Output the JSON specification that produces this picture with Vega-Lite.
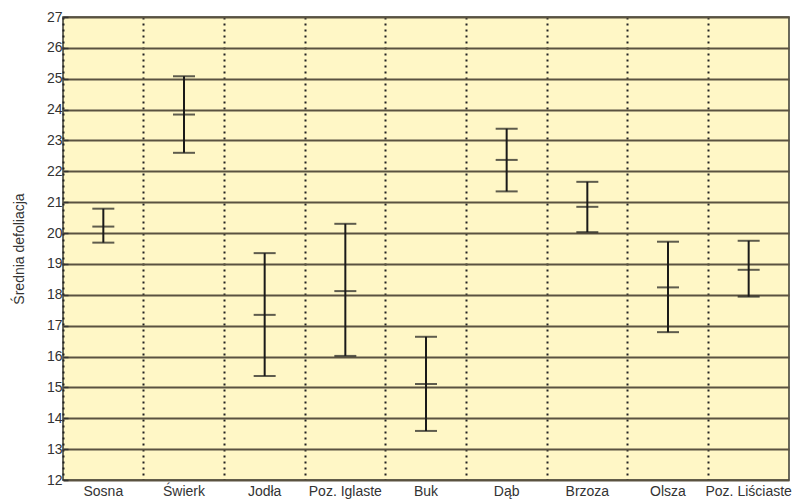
{
  "$schema": "https://vega.github.io/schema/vega-lite/v6.json",
  "width": 726,
  "height": 463,
  "autosize": {"type": "none"},
  "padding": {"left": 63, "top": 17, "right": 3, "bottom": 22},
  "background": "#ffffff",
  "config": {
    "view": {"fill": "#FFF7C6", "stroke": "#3a3a30", "strokeWidth": 1.5},
    "font": "Liberation Sans"
  },
  "data": {
    "values": [
      {"gatunek": "Sosna", "lo": 19.69, "mean": 20.21, "hi": 20.79},
      {"gatunek": "Świerk", "lo": 22.6, "mean": 23.84, "hi": 25.08},
      {"gatunek": "Jodła", "lo": 15.37, "mean": 17.35, "hi": 19.35},
      {"gatunek": "Poz. Iglaste", "lo": 16.02, "mean": 18.12, "hi": 20.3},
      {"gatunek": "Buk", "lo": 13.59, "mean": 15.11, "hi": 16.64},
      {"gatunek": "Dąb", "lo": 21.35, "mean": 22.37, "hi": 23.38},
      {"gatunek": "Brzoza", "lo": 20.03, "mean": 20.85, "hi": 21.66},
      {"gatunek": "Olsza", "lo": 16.79, "mean": 18.24, "hi": 19.72},
      {"gatunek": "Poz. Liściaste", "lo": 17.94, "mean": 18.81, "hi": 19.75}
    ]
  },
  "encoding": {
    "x": {
      "field": "gatunek",
      "type": "nominal",
      "sort": null,
      "scale": {"paddingInner": 0, "paddingOuter": 0},
      "axis": {
        "title": null,
        "labelAngle": 0,
        "labelFontSize": 14,
        "labelColor": "#333333",
        "labelPadding": 4,
        "ticks": false,
        "domain": false,
        "grid": true,
        "bandPosition": 0,
        "gridColor": "#222222",
        "gridWidth": 2,
        "gridDash": [2, 4],
        "gridOpacity": 1
      }
    },
    "y": {
      "field": "lo",
      "type": "quantitative",
      "scale": {"domain": [12, 27], "nice": false, "zero": false},
      "axis": {
        "title": "Średnia  defoliacja",
        "titleFont": "Liberation Sans",
        "titleFontSize": 14,
        "titleFontWeight": "normal",
        "titleColor": "#333333",
        "titlePadding": 20,
        "values": [12,12.25,12.5,12.75,13,13.25,13.5,13.75,14,14.25,14.5,14.75,15,15.25,15.5,15.75,16,16.25,16.5,16.75,17,17.25,17.5,17.75,18,18.25,18.5,18.75,19,19.25,19.5,19.75,20,20.25,20.5,20.75,21,21.25,21.5,21.75,22,22.25,22.5,22.75,23,23.25,23.5,23.75,24,24.25,24.5,24.75,25,25.25,25.5,25.75,26,26.25,26.5,26.75,27],
        "format": "d",
        "labelExpr": "datum.value % 1 === 0 ? datum.label : ''",
        "labelOverlap": false,
        "labelFontSize": 14,
        "labelColor": "#333333",
        "labelPadding": 6,
        "tickSize": -5,
        "tickColor": "#333333",
        "tickWidth": 1.5,
        "domain": false,
        "grid": true,
        "gridColor": "#5a5240",
        "gridWidth": 1.8,
        "gridOpacity": {"condition": {"test": "datum.value % 1 === 0", "value": 1}, "value": 0}
      }
    }
  },
  "layer": [
    {
      "mark": {"type": "rule", "color": "#1a1a1a", "strokeWidth": 2},
      "encoding": {
        "y2": {"field": "hi"}
      }
    },
    {
      "mark": {"type": "tick", "color": "#1a1a1a", "thickness": 2, "size": 22},
      "encoding": {}
    },
    {
      "mark": {"type": "tick", "color": "#1a1a1a", "thickness": 2, "size": 22},
      "encoding": {"y": {"field": "hi", "type": "quantitative"}}
    },
    {
      "mark": {"type": "tick", "color": "#1a1a1a", "thickness": 2, "size": 22},
      "encoding": {"y": {"field": "mean", "type": "quantitative"}}
    }
  ]
}
